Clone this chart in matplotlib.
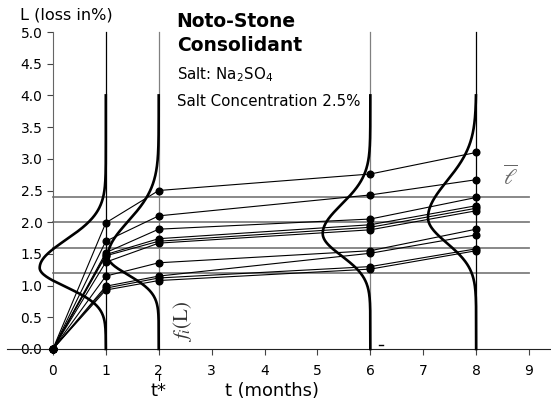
import numpy as np
import matplotlib.pyplot as plt

plt.rcParams['font.family'] = ['DejaVu Sans']
plt.rcParams['mathtext.fontset'] = 'stix'

# inspection times (months) and measured loss L (%) per specimen
times = [0, 1, 2, 6, 8]
loss_t1 = [1.99, 1.70, 1.52, 1.49, 1.47, 1.37, 1.15, 0.99, 0.96, 0.93]
loss_t2 = [2.50, 2.10, 1.89, 1.74, 1.70, 1.67, 1.36, 1.15, 1.12, 1.08]
loss_t6 = [2.76, 2.43, 2.05, 1.96, 1.92, 1.88, 1.55, 1.51, 1.30, 1.26]
loss_t8 = [3.10, 2.67, 2.39, 2.26, 2.22, 2.18, 1.89, 1.80, 1.58, 1.55]

# fitted densities f_i(L) at each inspection: mode, width below/above, drawn depth
dens_times = [1, 2, 6, 8]
dens_mode = [1.28, 1.46, 1.82, 2.07]
dens_sig_lo = [0.30, 0.29, 0.35, 0.40]
dens_sig_hi = [0.44, 0.55, 0.46, 0.58]
dens_depth = [1.25, 0.96, 0.90, 0.91]

# reference loss levels
levels = [1.2, 1.6, 2.0, 2.4]

yticks = np.arange(0, 5.01, 0.5)
xticks = list(range(10))

fig = plt.figure(figsize=(5.51, 4.07), dpi=100)
ax = fig.add_axes([0, 0, 1, 1])
ax.set_xlim(-1.0, 9.415)
ax.set_ylim(-0.915, 5.505)

for s in ['top', 'right']:
    ax.spines[s].set_visible(False)
ax.spines['left'].set_position(('data', 0))
ax.spines['left'].set_bounds(0, 5)
ax.spines['left'].set_color('#666666')
ax.spines['bottom'].set_position(('data', 0))
ax.spines['bottom'].set_bounds(-0.87, 9.42)
ax.spines['bottom'].set_color('#222222')
ax.set_xticks(xticks)
ax.set_yticks(yticks)
ax.set_yticklabels(['%.1f' % v for v in yticks])
ax.tick_params(axis='both', direction='out', length=4, width=0.8,
               labelsize=10, pad=3.5, colors='#444444', labelcolor='black')
ax.tick_params(axis='x', pad=6.5)

# horizontal reference levels
for lv in levels:
    ax.plot([0, 9], [lv, lv], color='#7f7f7f', lw=1.3, zorder=1)

# vertical inspection lines
for t, c in zip(dens_times, ['black', '#808080', '#808080', 'black']):
    ax.plot([t, t], [0, 5], color=c, lw=0.9, zorder=1)

# specimen paths
series = np.array([np.zeros(len(loss_t1)), loss_t1, loss_t2, loss_t6, loss_t8])
for k in range(series.shape[1]):
    ax.plot(times, series[:, k], color='black', lw=0.8, zorder=3,
            marker='o', ms=4.8)

# densities hanging off each vertical line
L = np.linspace(0, 4.0, 400)
for t, m, slo, shi, d in zip(dens_times, dens_mode, dens_sig_lo,
                             dens_sig_hi, dens_depth):
    sig = np.where(L < m, slo, shi)
    f = np.exp(-(L - m) ** 2 / (2 * sig ** 2))
    ax.plot(t - d * f, L, color='black', lw=1.9, zorder=4)

ax.text(-0.62, 5.27, 'L (loss in%)', fontsize=11.6, va='center', ha='left')
ax.text(2.34, 5.17, 'Noto-Stone', fontsize=13.5, fontweight='bold',
        va='center')
ax.text(2.34, 4.79, 'Consolidant', fontsize=13.5, fontweight='bold',
        va='center')
ax.text(2.34, 4.32, r'Salt: Na$_\mathregular{2}$SO$_\mathregular{4}$',
        fontsize=10.8, va='center')
ax.text(2.34, 3.91, 'Salt Concentration 2.5%', fontsize=10.8, va='center')
ax.text(3.25, -0.66, 't (months)', fontsize=12.9, va='center', ha='left')
ax.text(2.0, -0.66, 't*', fontsize=12.9, va='center', ha='center')
ax.plot([2, 2], [-0.39, -0.49], color='black', lw=0.8, clip_on=False)
ax.text(2.45, 0.43, r'$f_i(\mathrm{L})$', fontsize=15, rotation=90,
        color='#333333', va='center', ha='center')
ax.text(8.64, 2.72, r'$\overline{\ell}$', fontsize=16, color='#666666',
        va='center', ha='center')
ax.plot([6.16, 6.24], [0.06, 0.06], color='black', lw=1.0)

fig.savefig('out.png', dpi=100)
